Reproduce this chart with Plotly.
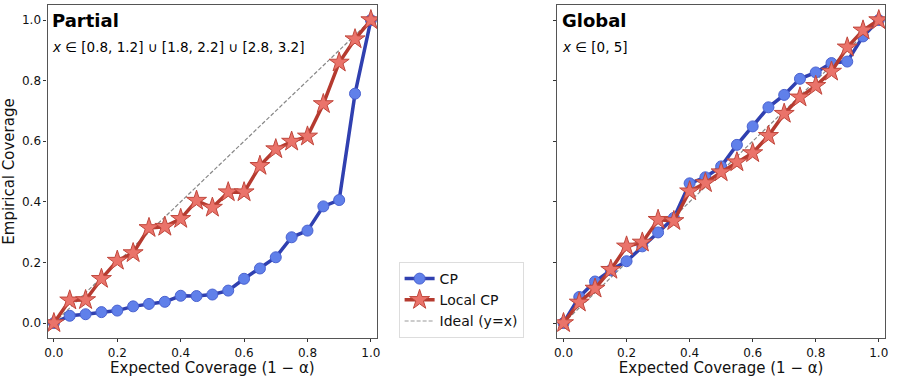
import plotly.graph_objects as go
from plotly.subplots import make_subplots

# expected coverage levels (1 - alpha)
levels = [0.0, 0.05, 0.1, 0.15, 0.2, 0.25, 0.3, 0.35, 0.4, 0.45, 0.5,
          0.55, 0.6, 0.65, 0.7, 0.75, 0.8, 0.85, 0.9, 0.95, 1.0]

# partial region
partial_cp = [0.0, 0.024, 0.029, 0.036, 0.041, 0.055, 0.063, 0.070, 0.090, 0.089, 0.094,
              0.107, 0.146, 0.180, 0.217, 0.283, 0.305, 0.385, 0.406, 0.757, 1.0]
partial_local = [0.0, 0.075, 0.076, 0.146, 0.206, 0.231, 0.314, 0.318, 0.344, 0.404, 0.381,
                 0.432, 0.432, 0.519, 0.574, 0.599, 0.616, 0.723, 0.860, 0.937, 1.0]

# global region
global_cp = [0.0, 0.086, 0.137, 0.174, 0.204, 0.253, 0.299, 0.347, 0.461, 0.481, 0.517,
             0.588, 0.649, 0.712, 0.753, 0.806, 0.827, 0.858, 0.863, 0.946, 1.0]
global_local = [0.0, 0.068, 0.114, 0.176, 0.253, 0.266, 0.341, 0.337, 0.435, 0.462, 0.498,
                0.531, 0.561, 0.618, 0.691, 0.745, 0.783, 0.830, 0.910, 0.966, 1.0]

ideal = [0.0, 1.0]

font_family = "DejaVu Sans"
cp_line = "#3040b0"
cp_fill = "#6080ea"
lcp_line = "#b53a2f"
lcp_fill = "#ea736a"

fig = make_subplots(rows=1, cols=2)

panels = [(partial_cp, partial_local, 1), (global_cp, global_local, 2)]
for cp, lcp, col in panels:
    first = col == 1
    fig.add_trace(go.Scatter(x=ideal, y=ideal, mode="lines", name="Ideal (y=x)",
                             line=dict(color="#888888", width=1.2, dash="4px,2px"),
                             showlegend=False, legendrank=3), row=1, col=col)
    fig.add_trace(go.Scatter(x=levels, y=cp, mode="lines+markers", name="CP",
                             line=dict(color=cp_line, width=3.5),
                             marker=dict(symbol="circle", size=11, color=cp_fill,
                                         line=dict(color="#4a62d0", width=1)),
                             showlegend=first, legendrank=1), row=1, col=col)
    fig.add_trace(go.Scatter(x=levels, y=lcp, mode="lines+markers", name="Local CP",
                             line=dict(color=lcp_line, width=3.5),
                             marker=dict(symbol="star", size=15, color=lcp_fill,
                                         line=dict(color="#c0473c", width=1)),
                             showlegend=first, legendrank=2), row=1, col=col)

# legend-only entry for the ideal line
fig.add_trace(go.Scatter(x=[None], y=[None], mode="lines", name="Ideal (y=x)",
                         line=dict(color="#999999", width=1.2, dash="4px,2px"),
                         legendrank=3), row=1, col=1)

axis_common = dict(range=[-0.02, 1.02], tickvals=[0, 0.2, 0.4, 0.6, 0.8, 1.0],
                   ticktext=["0.0", "0.2", "0.4", "0.6", "0.8", "1.0"],
                   ticks="outside", ticklen=3, tickcolor="#333333",
                   showline=True, linecolor="#555555", linewidth=1.2, mirror=True,
                   showgrid=False, zeroline=False, tickfont=dict(size=12, color="#111111"))

fig.update_xaxes(**axis_common)
fig.update_xaxes(title=dict(text="Expected Coverage (1 − α)", font=dict(size=15, color="#111111"),
                            standoff=2))
fig.update_yaxes(**axis_common)
fig.update_yaxes(range=[-0.05, 1.05])
fig.update_yaxes(title=dict(text="Empirical Coverage", font=dict(size=15, color="#111111"),
                            standoff=6), row=1, col=1)
fig.update_yaxes(showticklabels=False, row=1, col=2)

fig.update_layout(
    width=897, height=377,
    margin=dict(l=0, r=0, t=0, b=0),
    plot_bgcolor="white", paper_bgcolor="white",
    font=dict(family=font_family, color="#111111"),
    xaxis=dict(domain=[0.050, 0.420]),
    xaxis2=dict(domain=[0.622, 0.990]),
    yaxis=dict(domain=[0.103, 0.987]),
    yaxis2=dict(domain=[0.103, 0.987]),
    legend=dict(x=0.444, y=0.305, xanchor="left", yanchor="top",
                bgcolor="white", bordercolor="#dddddd", borderwidth=1,
                font=dict(size=14, color="#111111"), tracegroupgap=0),
)

# panel titles and region notes
notes = [("x domain", "Partial", "<i>x</i> ∈ [0.8, 1.2] ∪ [1.8, 2.2] ∪ [2.8, 3.2]"),
         ("x2 domain", "Global", "<i>x</i> ∈ [0, 5]")]
for xref, title, sub in notes:
    fig.add_annotation(xref=xref, yref="y domain", x=0.008, y=0.99, xanchor="left", yanchor="top",
                       text="<b>" + title + "</b>", showarrow=False,
                       font=dict(size=18, color="black"))
    fig.add_annotation(xref=xref, yref="y domain", x=0.008, y=0.905, xanchor="left", yanchor="top",
                       text=sub, showarrow=False, font=dict(size=13.5, color="black"))

# the page's default body margin would shift the fixed-size figure
fig.write_html("out.html", config={"displayModeBar": False},
               post_script="document.body.style.margin='0';")
